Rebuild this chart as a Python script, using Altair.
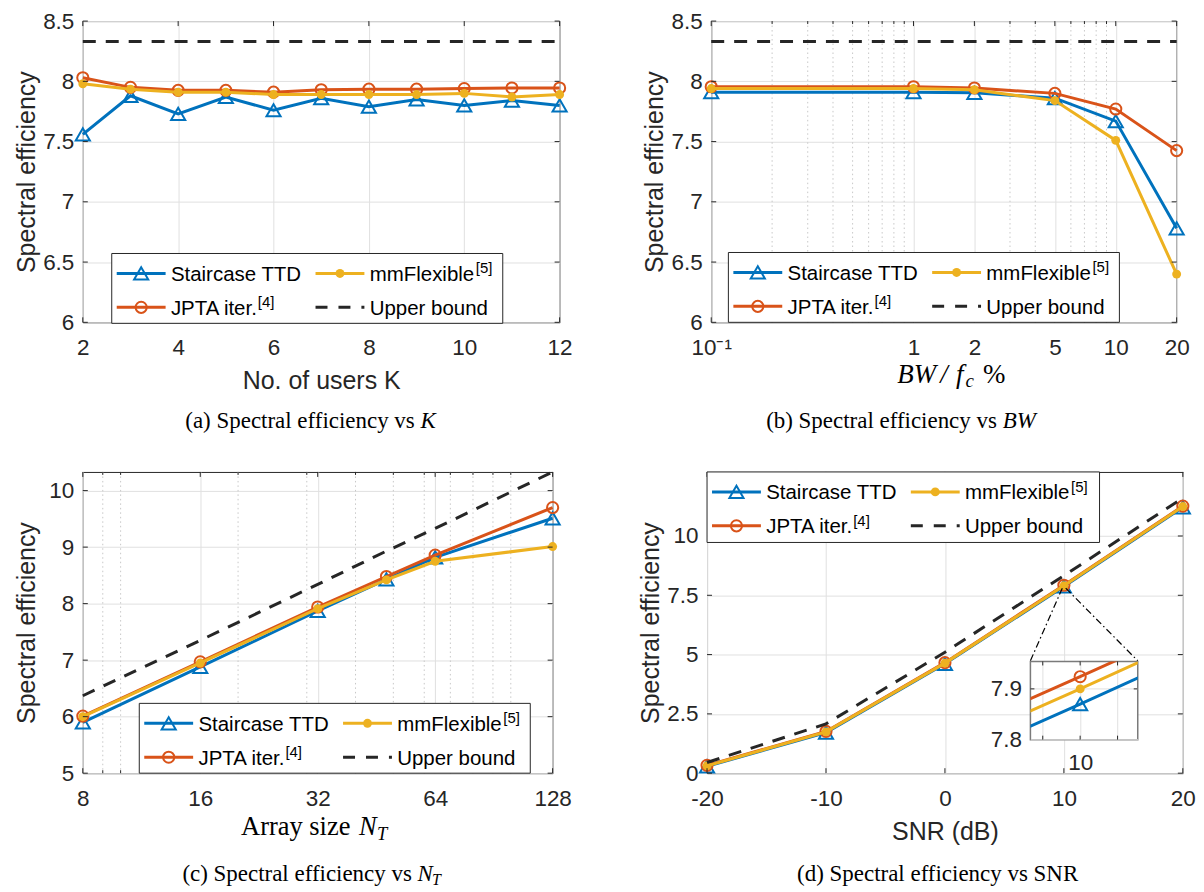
import altair as alt
import pandas as pd

# ---------------- data ----------------
users_K = [2, 3, 4, 5, 6, 7, 8, 9, 10, 11, 12]
a_staircase = [7.56, 7.88, 7.73, 7.87, 7.76, 7.86, 7.79, 7.85, 7.80, 7.84, 7.80]
a_jpta = [8.03, 7.95, 7.925, 7.925, 7.91, 7.93, 7.935, 7.935, 7.94, 7.945, 7.945]
a_mmflex = [7.98, 7.935, 7.91, 7.91, 7.89, 7.89, 7.89, 7.89, 7.90, 7.87, 7.89]
a_upper = [8.33, 8.33, 8.33, 8.33, 8.33, 8.33, 8.33, 8.33, 8.33, 8.33, 8.33]

bw_pct = [0.1, 1, 2, 5, 10, 20]
b_staircase = [7.91, 7.91, 7.905, 7.86, 7.67, 6.78]
b_jpta = [7.955, 7.955, 7.945, 7.90, 7.77, 7.425]
b_mmflex = [7.94, 7.94, 7.93, 7.84, 7.51, 6.40]
b_upper = [8.33, 8.33, 8.33, 8.33, 8.33, 8.33]

array_NT = [8, 16, 32, 48, 64, 128]
c_staircase = [5.90, 6.88, 7.87, 8.43, 8.82, 9.51]
c_jpta = [6.01, 6.97, 7.94, 8.48, 8.86, 9.70]
c_mmflex = [6.00, 6.95, 7.91, 8.42, 8.75, 9.01]
c_upper = [6.37, 7.35, 8.34, 8.93, 9.33, 10.33]

snr_dB = [-20, -10, 0, 10, 20]
d_staircase = [0.29, 1.71, 4.61, 7.87, 11.21]
d_jpta = [0.33, 1.76, 4.66, 7.924, 11.26]
d_mmflex = [0.31, 1.74, 4.64, 7.90, 11.24]
d_upper = [0.45, 2.08, 5.10, 8.33, 11.60]

# tick values
a_xticks = [2, 4, 6, 8, 10, 12]
a_yticks = [6, 6.5, 7, 7.5, 8, 8.5]
b_xticks = [0.1, 1, 2, 5, 10, 20]
b_xminor = [0.2, 0.3, 0.4, 0.5, 0.6, 0.7, 0.8, 0.9, 3, 4, 6, 7, 8, 9]
b_yticks = [6, 6.5, 7, 7.5, 8, 8.5]
c_xticks = [8, 16, 32, 64, 128]
c_xminor = [9, 10, 20, 30, 40, 50, 60, 70, 80, 90, 100]
c_yticks = [5, 6, 7, 8, 9, 10]
d_xticks = [-20, -10, 0, 10, 20]
d_yticks = [0, 2.5, 5, 7.5, 10]
inset_xticks = [9.9, 10, 10.1]
inset_yticks = [7.8, 7.9]
zoom_corner_x = [9.867, 10.154]
zoom_corner_y = 7.8

# ---------------- style ----------------
BLUE, ORANGE, YELLOW, INK = "#0072BD", "#D95319", "#EDB120", "#262626"
GRID, MINOR = "#e0e0e0", "#c8c8c8"
SANS, SERIF = "Liberation Sans", "Liberation Serif"
TICK_FS, TITLE_FS, LEG_FS, CAP_FS = 22.5, 25, 20.5, 23
COLORS = {"tri": BLUE, "circ": ORANGE, "dot": YELLOW, "dash": INK}
MARK = {
    "tri": dict(shape="triangle-up", filled=False, size=200, color=BLUE, strokeWidth=2, opacity=1),
    "circ": dict(shape="circle", filled=False, size=125, color=ORANGE, strokeWidth=2, opacity=1),
    "dot": dict(shape="circle", filled=True, size=80, color=YELLOW, opacity=1),
}
ONE = pd.DataFrame({"k": [0]})


def xaxis(values, W, title="", expr="datum.label", pad=32, fmt=".2~f"):
    return alt.Axis(values=values, grid=True, gridColor=GRID, gridWidth=1, ticks=False, tickSize=0,
                    domain=False, labelFont=SANS, labelFontSize=TICK_FS, labelColor=INK,
                    labelBaseline="alphabetic", labelPadding=pad, labelFlush=False,
                    labelOverlap=False, format=fmt, labelExpr=expr,
                    title=title, titleFont=SANS, titleFontSize=TITLE_FS,
                    titleFontWeight="normal", titleColor=INK, titleBaseline="alphabetic",
                    titleX=W / 2, titleY=66)


def yaxis(values, H, title="Spectral efficiency", fmt=".2~f"):
    return alt.Axis(values=values, grid=True, gridColor=GRID, gridWidth=1, ticks=False, tickSize=0,
                    domain=False, labelFont=SANS, labelFontSize=TICK_FS, labelColor=INK,
                    labelPadding=9, labelFlush=False, labelOverlap=False, format=fmt,
                    title=title, titleFont=SANS, titleFontSize=TITLE_FS, titleFontWeight="normal",
                    titleColor=INK, titleBaseline="alphabetic", titleX=-48.7, titleY=H / 2)


def txt(x, y, s, font=SERIF, size=CAP_FS, align="left", style="normal", color="black"):
    return alt.Chart(ONE).mark_text(align=align, baseline="alphabetic", font=font, fontSize=size,
                                    fontStyle=style, color=color).encode(
        x=alt.value(x), y=alt.value(y), text=alt.value(s))


def spacer(w, h):
    return alt.Chart(ONE).mark_point(opacity=0).encode(x=alt.value(0), y=alt.value(0)).properties(
        width=w, height=h, view=alt.ViewBackground(strokeOpacity=0))


def panel_layers(W, H, xs, series, xscale, yscale, xax, yax, xmaj, ymaj, xminor=None,
                 clip=False, tl=5, tlm=3):
    def X():
        return alt.X("x:Q", scale=xscale, axis=xax)

    def Y():
        return alt.Y("y:Q", scale=yscale, axis=yax)

    layers = []
    if xminor:
        layers.append(alt.Chart(pd.DataFrame({"x": xminor})).mark_rule(
            color=MINOR, strokeWidth=1, strokeDash=[1.5, 3]).encode(x=X()))
    for vals, style in zip(series, ["tri", "circ", "dot", "dash"]):
        df = pd.DataFrame({"x": xs, "y": vals})
        if style == "dash":
            layers.append(alt.Chart(df).mark_line(color=INK, strokeWidth=3, strokeDash=[13, 10],
                                                  clip=clip).encode(x=X(), y=Y()))
        else:
            layers.append(alt.Chart(df).mark_line(color=COLORS[style], strokeWidth=3,
                                                  clip=clip).encode(x=X(), y=Y()))
            layers.append(alt.Chart(df).mark_point(clip=clip, **MARK[style]).encode(x=X(), y=Y()))
    tx = pd.DataFrame({"x": xmaj})
    ty = pd.DataFrame({"y": ymaj})
    tick = dict(color=INK, strokeWidth=1)
    layers += [
        alt.Chart(tx).mark_rule(**tick).encode(x=X(), y=alt.value(H), y2=alt.value(H - tl)),
        alt.Chart(tx).mark_rule(**tick).encode(x=X(), y=alt.value(0), y2=alt.value(tl)),
        alt.Chart(ty).mark_rule(**tick).encode(y=Y(), x=alt.value(0), x2=alt.value(tl)),
        alt.Chart(ty).mark_rule(**tick).encode(y=Y(), x=alt.value(W), x2=alt.value(W - tl)),
    ]
    if xminor:
        tm = pd.DataFrame({"x": xminor})
        layers += [
            alt.Chart(tm).mark_rule(**tick).encode(x=X(), y=alt.value(H), y2=alt.value(H - tlm)),
            alt.Chart(tm).mark_rule(**tick).encode(x=X(), y=alt.value(0), y2=alt.value(tlm)),
        ]
    return layers


def legend_layers(L, T, W=392, H=70):
    out = [alt.Chart(ONE).mark_rect(fill="white", stroke=INK, strokeWidth=1).encode(
        x=alt.value(L), x2=alt.value(L + W), y=alt.value(T), y2=alt.value(T + H))]
    r1, r2 = T + 20, T + 54
    c1, c2 = L, L + 199.3
    entries = [(c1, r1, "tri", "Staircase TTD", None, 0),
               (c2, r1, "dot", "mmFlexible", "[5]", 365),
               (c1, r2, "circ", "JPTA iter.", "[4]", 146.5),
               (c2, r2, "dash", "Upper bound", None, 0)]
    for cx, cy, style, label, sup, sx in entries:
        kw = dict(color=COLORS[style], strokeWidth=3)
        if style == "dash":
            kw["strokeDash"] = [12, 11]
        out.append(alt.Chart(ONE).mark_rule(**kw).encode(
            x=alt.value(cx + 5), x2=alt.value(cx + 54), y=alt.value(cy)))
        if style != "dash":
            out.append(alt.Chart(ONE).mark_point(**MARK[style]).encode(
                x=alt.value(cx + 29.5), y=alt.value(cy)))
        out.append(txt(cx + 59.3, cy + 7.5, label, font=SANS, size=LEG_FS))
        if sup:
            out.append(txt(L + sx, cy, sup, font=SANS, size=15))
    return out


# ---------------- sizes ----------------
Wa, Wb, Wc, Wd, H1, H2 = 478, 466.6, 471, 477, 302, 302
GAP1, GAP2, ROWGAP = 152, 154.8, 150

# ---------------- panel (a) ----------------
sa_x = alt.Scale(domain=[2, 12], nice=False, zero=False)
sa_y = alt.Scale(domain=[6, 8.5], nice=False, zero=False)
pa = panel_layers(Wa, H1, users_K, [a_staircase, a_jpta, a_mmflex, a_upper], sa_x, sa_y,
                  xaxis(a_xticks, Wa, "No. of users K"), yaxis(a_yticks, H1), a_xticks, a_yticks)
pa += legend_layers(29, H1 - 69)
pa += [txt(332.8, H1 + 105.5, "(a) Spectral efficiency vs", align="right"),
       txt(338.5, H1 + 105.5, "K", style="italic")]
chart_a = alt.layer(*pa).properties(width=Wa, height=H1)

# ---------------- panel (b) ----------------
sb_x = alt.Scale(type="log", domain=[0.1, 20], nice=False)
sb_y = alt.Scale(domain=[6, 8.5], nice=False, zero=False)
pb = panel_layers(Wb, H1, bw_pct, [b_staircase, b_jpta, b_mmflex, b_upper], sb_x, sb_y,
                  xaxis(b_xticks, Wb, "", expr="datum.value < 0.5 ? '10⁻¹' : datum.label"),
                  yaxis(b_yticks, H1), b_xticks, b_yticks, xminor=b_xminor)
pb += legend_layers(17.2, H1 - 70)
pb += [txt(186.6, H1 + 60.7, "BW", size=27, style="italic"),
       txt(229.7, H1 + 60.7, "/", size=27, style="italic"),
       txt(245.5, H1 + 60.7, "f", size=27, style="italic"),
       txt(255.0, H1 + 64.7, "c", size=19, style="italic"),
       txt(272.5, H1 + 60.7, "%", size=27),
       txt(286.4, H1 + 105.5, "(b) Spectral efficiency vs", align="right"),
       txt(292.2, H1 + 105.5, "BW", style="italic")]
chart_b = alt.layer(*pb).properties(width=Wb, height=H1)

# ---------------- panel (c) ----------------
sc_x = alt.Scale(type="log", base=2, domain=[8, 128], nice=False)
sc_y = alt.Scale(domain=[5, 10.33], nice=False, zero=False)
pc = panel_layers(Wc, H2, array_NT, [c_staircase, c_jpta, c_mmflex, c_upper], sc_x, sc_y,
                  xaxis(c_xticks, Wc, ""), yaxis(c_yticks, H2), c_xticks, c_yticks, xminor=c_xminor)
pc += legend_layers(56.6, H2 - 70)
pc += [txt(158.7, H2 + 62.3, "Array size", size=26.5),
       txt(277, H2 + 62.3, "N", size=26.5, style="italic"),
       txt(295.0, H2 + 66.7, "T", size=18.5, style="italic"),
       txt(329.9, H2 + 108.2, "(c) Spectral efficiency vs", align="right"),
       txt(335.6, H2 + 108.2, "N", style="italic"),
       txt(350.0, H2 + 112, "T", size=16, style="italic")]
chart_c = alt.layer(*pc).properties(width=Wc, height=H2)

# ---------------- panel (d) ----------------
INSET_L, INSET_T, INSET_W, INSET_H = 324.2, 189.3, 107.6, 78.4
sd_x = alt.Scale(domain=[-20, 20], nice=False, zero=False)
sd_y = alt.Scale(domain=[0, 12.7], nice=False, zero=False)
ax_dx = xaxis(d_xticks, Wd, "SNR (dB)", expr="'' + datum.value")
ax_dy = yaxis(d_yticks, H2)
pd_ = panel_layers(Wd, H2, snr_dB, [d_staircase, d_jpta, d_mmflex, d_upper], sd_x, sd_y,
                   ax_dx, ax_dy, d_xticks, d_yticks)
conn = dict(color="black", strokeWidth=1.2, strokeDash=[7, 3, 1.5, 3])
pd_ += [
    alt.Chart(pd.DataFrame({"x": [zoom_corner_x[0]], "y": [zoom_corner_y]})).mark_rule(**conn).encode(
        x=alt.X("x:Q", scale=sd_x, axis=ax_dx), y=alt.Y("y:Q", scale=sd_y, axis=ax_dy),
        x2=alt.value(INSET_L), y2=alt.value(INSET_T)),
    alt.Chart(pd.DataFrame({"x": [zoom_corner_x[1]], "y": [zoom_corner_y]})).mark_rule(**conn).encode(
        x=alt.X("x:Q", scale=sd_x, axis=ax_dx), y=alt.Y("y:Q", scale=sd_y, axis=ax_dy),
        x2=alt.value(INSET_L + INSET_W), y2=alt.value(INSET_T)),
]
pd_ += legend_layers(0, 0, W=393.5, H=70.7)
pd_ += [txt(231.2, H2 + 108.2, "(d) Spectral efficiency vs SNR", align="center")]
chart_d = alt.layer(*pd_).properties(width=Wd, height=H2)

# ---------------- inset of (d) ----------------
si_x = alt.Scale(domain=[9.867, 10.154], nice=False, zero=False)
si_y = alt.Scale(domain=[7.8, 7.954], nice=False, zero=False)
ax_ix = xaxis(inset_xticks, INSET_W, "", expr="datum.value == 10 ? '10' : ''", pad=30)
ax_iy = yaxis(inset_yticks, INSET_H, "", fmt=".1f")
pi = panel_layers(INSET_W, INSET_H, snr_dB, [d_staircase, d_jpta, d_mmflex], si_x, si_y,
                  ax_ix, ax_iy, inset_xticks, [7.9], clip=True, tl=4)
inset = alt.layer(*pi).properties(
    width=INSET_W, height=INSET_H,
    view=alt.ViewBackground(fill="white", stroke="#7a7a7a", strokeWidth=1.5))

# ---------------- layout ----------------
row1 = alt.hconcat(chart_a, chart_b, spacing=GAP1, bounds="flush")
row2 = alt.hconcat(chart_c, chart_d, spacing=GAP2, bounds="flush")
overlay = alt.hconcat(
    spacer(Wc + GAP2 + INSET_L, 1),
    alt.vconcat(spacer(1, INSET_T), inset, spacing=0, bounds="flush"),
    spacing=0, bounds="flush")
chart = alt.vconcat(row1, spacer(1, H1 + ROWGAP), row2, overlay, spacing=0, bounds="flush").properties(
    padding={"left": 5, "top": 0, "right": 0, "bottom": 2}, background="white"
).configure_view(stroke=INK, strokeWidth=1)

chart.save("out.html", embed_options={"renderer": "svg", "actions": False})
